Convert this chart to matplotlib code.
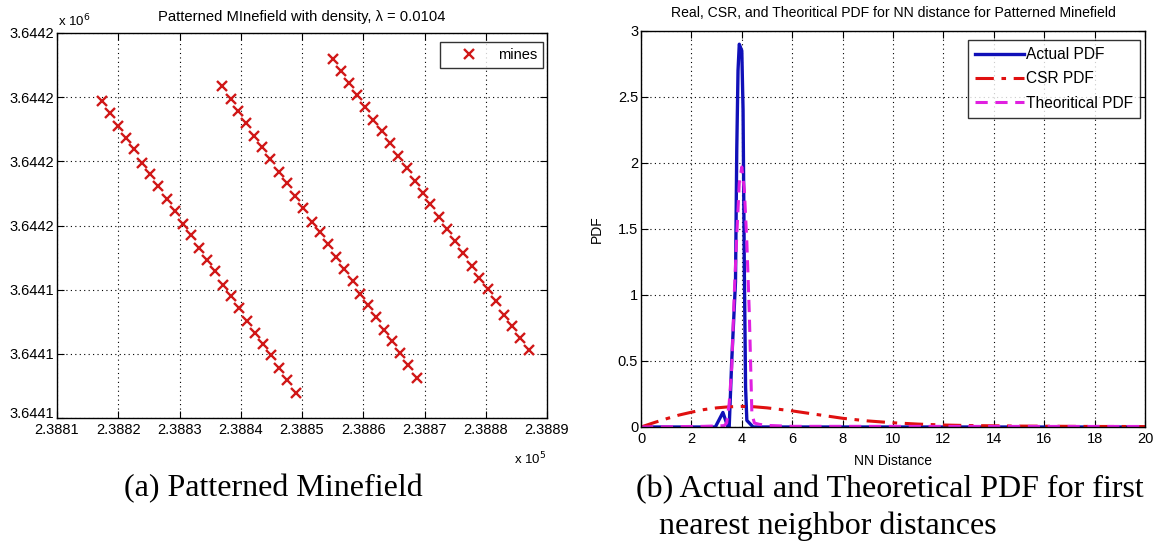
import matplotlib
matplotlib.use("Agg")
import matplotlib.pyplot as plt
from matplotlib.ticker import FixedLocator
from matplotlib.transforms import ScaledTranslation

plt.rcParams['font.family'] = ['Liberation Sans', 'DejaVu Sans']

# ---------------- data: patterned minefield (easting / northing, m) ----------------
row1_x = [238817.38, 238818.64, 238820.00, 238821.31, 238822.62, 238823.87, 238825.18,
          238826.54, 238828.01, 238829.26, 238830.57, 238831.88, 238833.19, 238834.50,
          238835.75, 238837.06, 238838.47, 238839.78, 238841.09, 238842.40, 238843.71,
          238844.96, 238846.32, 238847.57, 238849.05]
row1_y = [3644169.34, 3644167.52, 3644165.54, 3644163.67, 3644161.85, 3644159.72, 3644158.00,
          3644156.08, 3644154.10, 3644152.23, 3644150.31, 3644148.54, 3644146.56, 3644144.69,
          3644142.92, 3644140.79, 3644139.02, 3644137.10, 3644135.17, 3644133.30, 3644131.48,
          3644129.77, 3644127.79, 3644125.87, 3644123.89]
row2_x = [238836.89, 238838.37, 238839.51, 238840.82, 238842.18, 238843.49, 238844.85,
          238846.21, 238847.52, 238848.83, 238850.14, 238851.66, 238852.86, 238854.17,
          238855.48, 238856.84, 238858.26, 238859.51, 238860.71, 238862.07, 238863.38,
          238864.69, 238865.99, 238867.30, 238868.72]
row2_y = [3644171.73, 3644169.76, 3644167.83, 3644165.91, 3644163.93, 3644162.16, 3644160.34,
          3644158.32, 3644156.60, 3644154.62, 3644152.70, 3644150.62, 3644149.01, 3644147.13,
          3644145.16, 3644143.23, 3644141.36, 3644139.33, 3644137.57, 3644135.69, 3644133.77,
          3644131.95, 3644130.13, 3644128.21, 3644126.23]
row3_x = [238855.10, 238856.35, 238857.71, 238859.02, 238860.27, 238861.63, 238863.00,
          238864.31, 238865.72, 238867.14, 238868.45, 238869.70, 238870.90, 238872.37,
          238873.62, 238875.04, 238876.35, 238877.71, 238878.96, 238880.33, 238881.63,
          238882.94, 238884.30, 238885.67, 238886.98]
row3_y = [3644175.89, 3644174.02, 3644172.20, 3644170.28, 3644168.40, 3644166.48, 3644164.71,
          3644162.89, 3644160.81, 3644158.89, 3644156.96, 3644155.14, 3644153.32, 3644151.29,
          3644149.53, 3644147.60, 3644145.73, 3644143.75, 3644141.83, 3644140.11, 3644138.19,
          3644136.06, 3644134.34, 3644132.42, 3644130.60]

left_xticks = [238810, 238820, 238830, 238840, 238850, 238860, 238870, 238880, 238890]
left_xticklabels = ['2.3881', '2.3882', '2.3883', '2.3884', '2.3885', '2.3886', '2.3887',
                    '2.3888', '2.3889']
left_yticks = [3644120, 3644130, 3644140, 3644150, 3644160, 3644170, 3644180]
left_yticklabels = ['3.6441', '3.6441', '3.6441', '3.6442', '3.6442', '3.6442', '3.6442']

# ---------------- data: NN distance PDFs ----------------
actual_x = [0.0, 2.95, 3.25, 3.45, 3.5, 3.6, 3.75, 3.8, 3.85, 3.9, 4.0, 4.05, 4.1, 4.15, 4.2, 4.45, 20.0]
actual_y = [0.0, 0.0, 0.11, 0.0, 0.0, 0.5, 1.1, 2.1, 2.7, 2.9, 2.85, 2.4, 1.2, 0.3, 0.05, 0.0, 0.0]

csr_x = [0, 0.5, 1, 1.5, 2, 2.5, 3, 3.5, 4, 4.5, 5, 6, 7, 8, 9, 10, 11, 12, 13, 14, 15, 16, 17, 18, 19, 20]
csr_y = [0.0, 0.032, 0.062, 0.09, 0.112, 0.132, 0.145, 0.153, 0.156, 0.153, 0.145, 0.122, 0.094,
         0.066, 0.046, 0.032, 0.022, 0.015, 0.011, 0.009, 0.007, 0.006, 0.005, 0.004, 0.004, 0.003]

theo_x = [0.0, 2.5, 3.3, 3.4, 3.5, 3.6, 3.7, 3.8, 3.9, 4.0, 4.1, 4.2, 4.3, 4.4, 4.5, 4.7, 5.0, 6.0, 20.0]
theo_y = [0.0, 0.005, 0.01, 0.03, 0.18, 0.45, 1.0, 1.45, 1.85, 1.97, 1.8, 1.4, 0.85, 0.1, 0.03,
          0.02, 0.012, 0.005, 0.004]

right_xticks = [0, 2, 4, 6, 8, 10, 12, 14, 16, 18, 20]
right_yticks = [0, 0.5, 1, 1.5, 2, 2.5, 3]

# ---------------- figure ----------------
W, H = 1156, 542
fig = plt.figure(figsize=(W / 100, H / 100), dpi=100)

def fr(x0, y0, x1, y1):
    return [x0 / W, 1 - y1 / H, (x1 - x0) / W, (y1 - y0) / H]

tick_fs = 10.5

def style(ax):
    ax.grid(True, linestyle=(0, (1, 3)), color='black', linewidth=0.8)
    ax.tick_params(direction='in', length=5, width=0.8, top=True, right=True,
                   labelsize=tick_fs, pad=2, colors='black')
    ax.tick_params(axis='x', pad=3.5)
    for s in ax.spines.values():
        s.set_linewidth(1.0)

# left panel
axL = fig.add_axes(fr(57, 33, 547, 418))
mk = dict(linestyle='none', marker='x', color='#d01818', markersize=7, markeredgewidth=1.7)
axL.plot(row1_x, row1_y, label='mines', **mk)
axL.plot(row2_x, row2_y, **mk)
axL.plot(row3_x, row3_y, **mk)
axL.set_xlim(left_xticks[0], left_xticks[-1])
axL.set_ylim(left_yticks[0], left_yticks[-1])
axL.xaxis.set_major_locator(FixedLocator(left_xticks))
axL.set_xticklabels(left_xticklabels)
axL.yaxis.set_major_locator(FixedLocator(left_yticks))
axL.set_yticklabels(left_yticklabels)
style(axL)
# lift the lowest y label a little (as in the reference) so it clears the x labels
lab0 = axL.yaxis.get_major_ticks()[0].label1
lab0.set_transform(lab0.get_transform() + ScaledTranslation(0, 6 / 100, fig.dpi_scale_trans))
axL.set_title('Patterned MInefield with density, λ = 0.0104', fontsize=10.6, pad=9)
legL = axL.legend(loc='upper right', fontsize=10.5, frameon=True, fancybox=False,
                  edgecolor='black', handlelength=3.2, handletextpad=0.4,
                  borderpad=0.4, borderaxespad=0,
                  bbox_to_anchor=(543 / W, 1 - 42 / H), bbox_transform=fig.transFigure)
legL.get_frame().set_linewidth(1.0)
fig.text(58 / W, 1 - 21 / H, 'x 10$^{6}$', fontsize=9.5, ha='left', va='center')
fig.text(514 / W, 1 - 459 / H, 'x 10$^{5}$', fontsize=9.5, ha='left', va='center')

# right panel
axR = fig.add_axes(fr(641, 31, 1145, 427))
axR.plot(actual_x, actual_y, color='#1010b8', linewidth=2.4, label='Actual PDF')
axR.plot(csr_x, csr_y, color='#e01010', linewidth=2.2, linestyle=(0, (6, 2.5, 1.5, 2.5)),
         label='CSR PDF')
axR.plot(theo_x, theo_y, color='#e020e0', linewidth=2.2, linestyle=(0, (4, 2.5)),
         label='Theoritical PDF')
axR.set_xlim(0, 20)
axR.set_ylim(0, 3)
axR.set_xticks(right_xticks)
axR.set_yticks(right_yticks)
axR.set_yticklabels(['0', '0.5', '1', '1.5', '2', '2.5', '3'])
style(axR)
axR.set_title('Real, CSR, and Theoritical PDF for NN distance for Patterned Minefield',
              fontsize=10.1, pad=10)
axR.set_xlabel('NN Distance', fontsize=10, labelpad=6)
axR.set_ylabel('PDF', fontsize=10, labelpad=10)
legR = axR.legend(loc='upper right', fontsize=11.2, frameon=True, fancybox=False,
                  edgecolor='black', handlelength=3.2, handletextpad=0.1,
                  borderpad=0.45, labelspacing=0.6, borderaxespad=0,
                  bbox_to_anchor=(1140 / W, 1 - 40 / H), bbox_transform=fig.transFigure)
legR.get_frame().set_linewidth(1.0)

# captions
cap = dict(family=['Liberation Serif', 'DejaVu Serif'], fontsize=23, color='black')
fig.text(273 / W, 1 - 489 / H, '(a) Patterned Minefield', ha='center', va='center', **cap)
fig.text(636 / W, 1 - 490 / H, '(b) Actual and Theoretical PDF for first', ha='left',
         va='center', **cap)
fig.text(659 / W, 1 - 526 / H, 'nearest neighbor distances', ha='left', va='center', **cap)

fig.savefig('out.png', dpi=100, facecolor='white')
